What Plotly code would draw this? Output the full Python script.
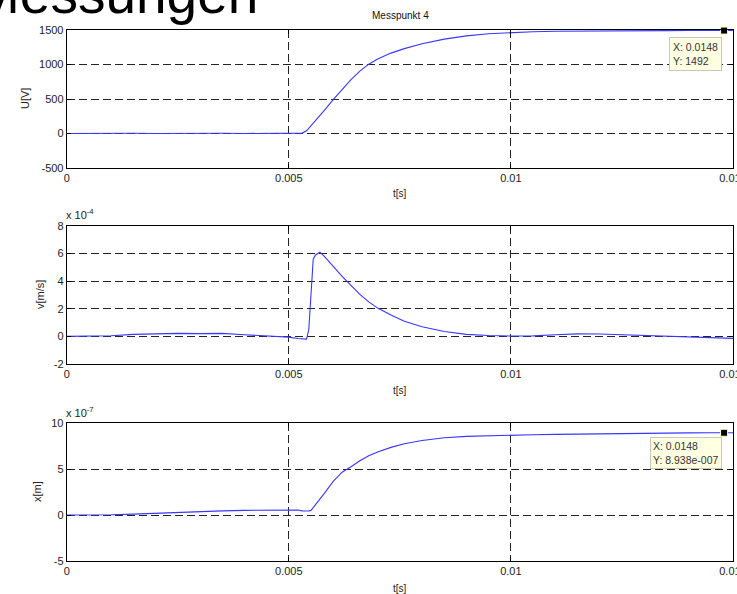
import plotly.graph_objects as go

# ---------------- data ----------------
t = [0, 0.0005, 0.001, 0.0015, 0.002, 0.0025, 0.003, 0.0035, 0.004, 0.0045,
     0.005, 0.0052, 0.0053, 0.0054, 0.00545, 0.0055, 0.00555, 0.0056, 0.0057, 0.0058,
     0.006, 0.0062, 0.0064, 0.0066, 0.0068, 0.007, 0.0073, 0.0076, 0.008, 0.0085,
     0.009, 0.0095, 0.01, 0.0105, 0.011, 0.0115, 0.012, 0.0125, 0.013, 0.0135,
     0.014, 0.0145, 0.0148, 0.015]

U_volt = [0, 3, -2, 4, 1, 5, 2, 4, 0, 3,
          2, 5, 6, 40, 75, 110, 148, 185, 260, 335,
          490, 640, 780, 905, 1005, 1080, 1165, 1230, 1300, 1368,
          1415, 1445, 1464, 1475, 1481, 1485, 1488, 1490, 1491, 1491,
          1492, 1492, 1492, 1493]

v_e4 = [0, 0.02, 0.05, 0.15, 0.2, 0.22, 0.2, 0.22, 0.12, 0.05,
        -0.05, -0.15, -0.2, -0.2, 0.5, 3.0, 5.6, 5.9, 6.1, 5.8,
        5.05, 4.35, 3.7, 3.05, 2.5, 2.05, 1.55, 1.1, 0.7, 0.35,
        0.15, 0.06, 0.03, 0.04, 0.12, 0.18, 0.17, 0.12, 0.08, 0.02,
        -0.03, -0.08, -0.12, -0.14]          # in units of 1e-4 m/s

x_e7 = [0, 0, 0.02, 0.1, 0.2, 0.28, 0.36, 0.45, 0.5, 0.53,
        0.55, 0.55, 0.45, 0.42, 0.43, 0.5, 0.8, 1.1, 1.7, 2.35,
        3.65, 4.65, 5.25, 5.9, 6.45, 6.85, 7.35, 7.75, 8.1, 8.4,
        8.55, 8.63, 8.68, 8.72, 8.76, 8.8, 8.84, 8.88, 8.91, 8.92,
        8.93, 8.94, 8.938, 8.94]             # in units of 1e-7 m

tip_t = [0.0148]
tip_U = [1492]
tip_x = [8.938]
cursor_t = [0.01507]
cursor_v = [6.1]

x_ticks = [0, 0.005, 0.01, 0.015]
x_ticktext = ["0", "0.005", "0.01", "0.015"]
U_ticks = [-500, 0, 500, 1000, 1500]
v_ticks = [-2, 0, 2, 4, 6, 8]
x_ticks_y = [-5, 0, 5, 10]

# ---------------- layout helpers ----------------
W, H = 737, 594
def px_x(p):
    return p / W
def px_y(p):
    return 1 - p / H

LINE = "rgb(55,55,255)"
FONT = "Liberation Sans, Arial, sans-serif"
TICKFONT = dict(family=FONT, size=11, color="#222")
xdom = [px_x(66.7), px_x(733)]
panels = [(30, 168), (226, 364), (423, 561)]

fig = go.Figure()
fig.add_trace(go.Scatter(x=t, y=U_volt, mode="lines", line=dict(color=LINE, width=1.1),
                         xaxis="x", yaxis="y", showlegend=False))
fig.add_trace(go.Scatter(x=t, y=v_e4, mode="lines", line=dict(color=LINE, width=1.1),
                         xaxis="x2", yaxis="y2", showlegend=False))
fig.add_trace(go.Scatter(x=t, y=x_e7, mode="lines", line=dict(color=LINE, width=1.1),
                         xaxis="x3", yaxis="y3", showlegend=False))
fig.add_trace(go.Scatter(x=tip_t, y=tip_U, mode="markers",
                         marker=dict(symbol="square", size=7, color="black",
                                     line=dict(color="#ffffcc", width=1)),
                         xaxis="x", yaxis="y", showlegend=False, cliponaxis=False))
fig.add_trace(go.Scatter(x=tip_t, y=tip_x, mode="markers",
                         marker=dict(symbol="square", size=7, color="black",
                                     line=dict(color="#ffffcc", width=1)),
                         xaxis="x3", yaxis="y3", showlegend=False, cliponaxis=False))
fig.add_trace(go.Scatter(x=cursor_t, y=cursor_v, mode="markers",
                         marker=dict(symbol="circle", size=9, color="#00a0a0"),
                         xaxis="x2", yaxis="y2", showlegend=False, cliponaxis=False))

common_axis = dict(showline=True, linecolor="black", linewidth=1, mirror="ticks",
                   ticks="inside", ticklen=4, tickcolor="black", tickwidth=1,
                   showgrid=True, gridcolor="#222", gridwidth=1, griddash="8px,4px",
                   zeroline=False, tickfont=TICKFONT, automargin=False, fixedrange=True,
                   ticklabeloverflow="allow", layer="above traces")

yranges = [[-500, 1500], [-2, 8], [-5, 10]]
yticks = [U_ticks, v_ticks, x_ticks_y]
layout = {}
for i, ((top, bot), yr, yt) in enumerate(zip(panels, yranges, yticks)):
    sfx = "" if i == 0 else str(i + 1)
    layout["xaxis" + sfx] = dict(common_axis, domain=xdom, range=[0, 0.015],
                                 tickvals=x_ticks, ticktext=x_ticktext,
                                 anchor="y" + sfx)
    layout["yaxis" + sfx] = dict(common_axis, domain=[px_y(bot), px_y(top)], range=yr,
                                 tickvals=yt, ticktext=[str(v) for v in yt],
                                 anchor="x" + sfx)

annotations = []
# big slide heading (cut off at top)
annotations.append(dict(text="Messungen", x=px_x(-28), y=px_y(-6), xref="paper", yref="paper",
                        xanchor="left", yanchor="middle", showarrow=False,
                        font=dict(family=FONT, size=55, color="black")))
# title
annotations.append(dict(text="Messpunkt 4", x=px_x(400), y=px_y(15), xref="paper", yref="paper",
                        xanchor="center", yanchor="middle", showarrow=False,
                        font=dict(family=FONT, size=10, color="#111")))
# x titles
for yc in (193, 390, 588):
    annotations.append(dict(text="t[s]", x=px_x(400), y=px_y(yc), xref="paper", yref="paper",
                            xanchor="center", yanchor="middle", showarrow=False,
                            font=dict(family=FONT, size=10, color="#222")))
# y titles
for txt, xc, yc in (("U[V]", 25, 99), ("v[m/s]", 40, 295), ("x[m]", 37, 492)):
    annotations.append(dict(text=txt, x=px_x(xc), y=px_y(yc), xref="paper", yref="paper",
                            xanchor="center", yanchor="middle", textangle=-90, showarrow=False,
                            font=dict(family=FONT, size=11, color="#222")))
# exponent labels
for txt, yc in (("x 10<sup>-4</sup>", 214), ("x 10<sup>-7</sup>", 412)):
    annotations.append(dict(text=txt, x=px_x(64), y=px_y(yc), xref="paper", yref="paper",
                            xanchor="left", yanchor="middle", showarrow=False,
                            font=dict(family=FONT, size=11, color="#222")))
# data tips
annotations.append(dict(text="X: 0.0148<br>Y: 1492", x=px_x(722), y=px_y(37),
                        xref="paper", yref="paper", xanchor="right", yanchor="top",
                        align="left", showarrow=False, bgcolor="#ffffe1",
                        bordercolor="#c8c8b8", borderwidth=1, borderpad=3,
                        font=dict(family=FONT, size=10.5, color="#333")))
annotations.append(dict(text="X: 0.0148<br>Y: 8.938e-007", x=px_x(722), y=px_y(437),
                        xref="paper", yref="paper", xanchor="right", yanchor="top",
                        align="left", showarrow=False, bgcolor="#ffffe1",
                        bordercolor="#c8c8b8", borderwidth=1, borderpad=2,
                        font=dict(family=FONT, size=10.5, color="#333")))

fig.update_layout(width=W, height=H,
                  margin=dict(l=0, r=0, t=0, b=0, pad=0, autoexpand=False),
                  paper_bgcolor="white", plot_bgcolor="white",
                  annotations=annotations, showlegend=False, **layout)

fig.write_html("out.html", config={"displayModeBar": False},
               post_script="document.body.style.margin='0';document.body.style.overflow='hidden';")
